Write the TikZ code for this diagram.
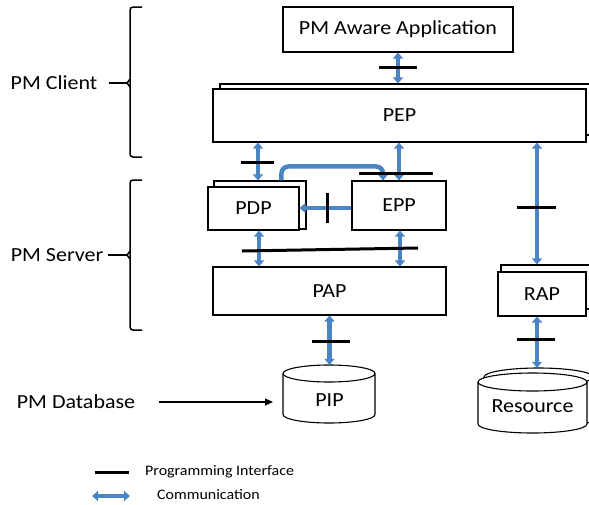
\documentclass[tikz,border=0pt]{standalone}
\usepackage{fontspec}
\setmainfont[FakeStretch=1.1]{Carlito}
\usetikzlibrary{arrows.meta,calc}

\definecolor{commblue}{HTML}{4A84C2}

\tikzset{
  box/.style={draw, line width=1.1pt, fill=white, inner sep=0pt,
              font=\fontsize{20}{24}\selectfont},
  shadowbox/.style={draw, line width=1.1pt, fill=white, inner sep=0pt},
  lbl/.style={inner sep=0pt, font=\fontsize{20}{24}\selectfont},
  legendtext/.style={inner sep=0pt, anchor=west, font=\fontsize{14.5}{17}\selectfont},
  comm/.style={draw=commblue, line width=4.5pt,
               {Triangle[width=10pt,length=6pt]}-{Triangle[width=10pt,length=6pt]}},
  commone/.style={draw=commblue, line width=4.5pt, -{Triangle[width=10pt,length=6pt]}},
  api/.style={draw=black, line width=3pt},
  brace/.style={draw=black, line width=1.5pt, rounded corners=3pt},
  thin/.style={draw=black, line width=1.1pt}
}

\begin{document}
\begin{tikzpicture}[x=1pt, y=-1pt]
  \clip (0,0) rectangle (589,504);
  \fill[white] (0,0) rectangle (589,504);

  % ---- boxes ----
  \node[box, minimum width=230pt, minimum height=45pt] (app) at (398,29.5) {PM Aware Application};

  \node[shadowbox, minimum width=376pt, minimum height=51pt] (peps) at (408,109.5) {};
  \node[box, minimum width=373pt, minimum height=53pt] (pep) at (399.5,115.5) {PEP};

  \node[shadowbox, minimum width=92pt, minimum height=48pt] (pdps) at (260,205) {};
  \node[box, minimum width=91pt, minimum height=43pt] (pdp) at (253.5,208.5) {PDP};

  \node[box, minimum width=94pt, minimum height=49pt] (epp) at (399,205.5) {EPP};

  \node[box, minimum width=233pt, minimum height=48pt] (pap) at (329.5,291) {PAP};

  \node[shadowbox, minimum width=95pt, minimum height=44pt] (raps) at (548.5,287) {};
  \node[box, minimum width=88pt, minimum height=44pt] (rap) at (542,294) {RAP};

  % ---- PIP cylinder ----
  \fill[white] (283,373.5) -- (283,414.5) arc[start angle=180, end angle=0, x radius=46, y radius=8.5]
        -- (375,373.5) arc[start angle=0, end angle=-180, x radius=46, y radius=8.5] -- cycle;
  \draw[thin] (283,373.5) -- (283,414.5) arc[start angle=180, end angle=0, x radius=46, y radius=8.5]
        -- (375,373.5);
  \draw[thin] (329,373.5) ellipse[x radius=46, y radius=8.5];
  \node[lbl, minimum width=92pt, minimum height=58pt] (pip) at (329,394) {};
  \node[lbl] (piptext) at (329.5,400) {PIP};

  % ---- Resource cylinder (stacked) ----
  \fill[white] (484,377) -- (484,419) arc[start angle=180, end angle=0, x radius=54.5, y radius=9]
        -- (593,377) arc[start angle=0, end angle=-180, x radius=54.5, y radius=9] -- cycle;
  \draw[thin] (484,377) -- (484,419) arc[start angle=180, end angle=0, x radius=54.5, y radius=9]
        -- (593,377);
  \draw[thin] (538.5,377) ellipse[x radius=54.5, y radius=9];
  \node[lbl, minimum width=109pt, minimum height=60pt] (ress) at (538.5,398) {};

  \fill[white] (478,382) -- (478,424) arc[start angle=180, end angle=0, x radius=54.5, y radius=9]
        -- (587,382) arc[start angle=0, end angle=-180, x radius=54.5, y radius=9] -- cycle;
  \draw[thin] (478,382) -- (478,424) arc[start angle=180, end angle=0, x radius=54.5, y radius=9]
        -- (587,382);
  \draw[thin] (532.5,382) ellipse[x radius=54.5, y radius=9];
  \node[lbl] (res) at (532.5,406) {Resource};

  % ---- communication arrows ----
  \draw[comm] (app.south) -- (app.south |- peps.north);
  \coordinate (pdpx) at ([xshift=-2pt]pdps.north);
  \draw[comm] (pdpx |- pep.south) -- (pdpx);
  \draw[comm] (epp.north |- pep.south) -- (epp.north);
  \coordinate (rapx) at ([xshift=-5pt]rap.north);
  \draw[comm] (rapx |- pep.south) -- (rapx |- raps.north);

  \draw[commone, rounded corners=7pt]
    ([xshift=68pt]pdps.north west) |- ([xshift=-16pt,yshift=14pt]epp.north)
    -- ([xshift=-16pt]epp.north);
  \draw[commone] (epp.west |- 0,208) -- (pdp.east |- 0,208);

  \coordinate (pdpd) at ([xshift=5.5pt]pdp.south);
  \draw[comm] (pdpd) -- (pdpd |- pap.north);
  \coordinate (eppd) at ([xshift=1pt]epp.south);
  \draw[comm] (eppd) -- (eppd |- pap.north);

  \draw[comm] (pap.south) -- (pap.south |- pip.north);
  \draw[comm] (rapx |- rap.south) -- (rapx |- ress.north);

  % ---- programming interfaces ----
  \draw[api] (379,67) -- (417,67);
  \draw[api] (241,162) -- (274,162);
  \draw[api] (359,173) -- (433,173);
  \draw[api] (327,193) -- (327,223);
  \draw[api] (242,251) -- (418,248);
  \draw[api] (517,207) -- (556,207);
  \draw[api] (312,341) -- (350,341);
  \draw[api] (517,339) -- (555,339);

  % ---- tier braces and labels ----
  \node[lbl] (client) at (54,83) {PM Client};
  \draw[brace] (142,7) -- (130,7) -- (130,157) -- (142,157);
  \coordinate (ccusp) at (127,83);
  \draw[brace, rounded corners=0pt] (130,79) -- (ccusp) -- (130,87);
  \draw[thin, line width=1.5pt] ([xshift=11pt]client.east) -- (ccusp);

  \node[lbl] (server) at (57,255) {PM Server};
  \draw[brace] (142,180) -- (130,180) -- (130,330) -- (142,330);
  \coordinate (scusp) at (127,255);
  \draw[brace, rounded corners=0pt] (130,251) -- (scusp) -- (130,259);
  \draw[thin, line width=1.5pt] ([xshift=5pt]server.east) -- (scusp);

  \node[lbl] (db) at (76,402) {PM Database};
  \coordinate (dbend) at (283,402);
  \draw[thin, -{Triangle[width=7pt,length=8pt]}] ([xshift=24pt]db.east) -- ([xshift=-10pt]dbend);

  % ---- legend ----
  \coordinate (l1a) at (95,472);
  \coordinate (l1b) at (129,472);
  \draw[api] (l1a) -- (l1b);
  \node[legendtext] (l1t) at (145,472) {Programming Interface};
  \coordinate (l2a) at (92,496);
  \coordinate (l2b) at (130,496);
  \draw[comm, line width=3.5pt] (l2a) -- (l2b);
  \node[legendtext] (l2t) at (157,495) {Communication};
\end{tikzpicture}
\end{document}
